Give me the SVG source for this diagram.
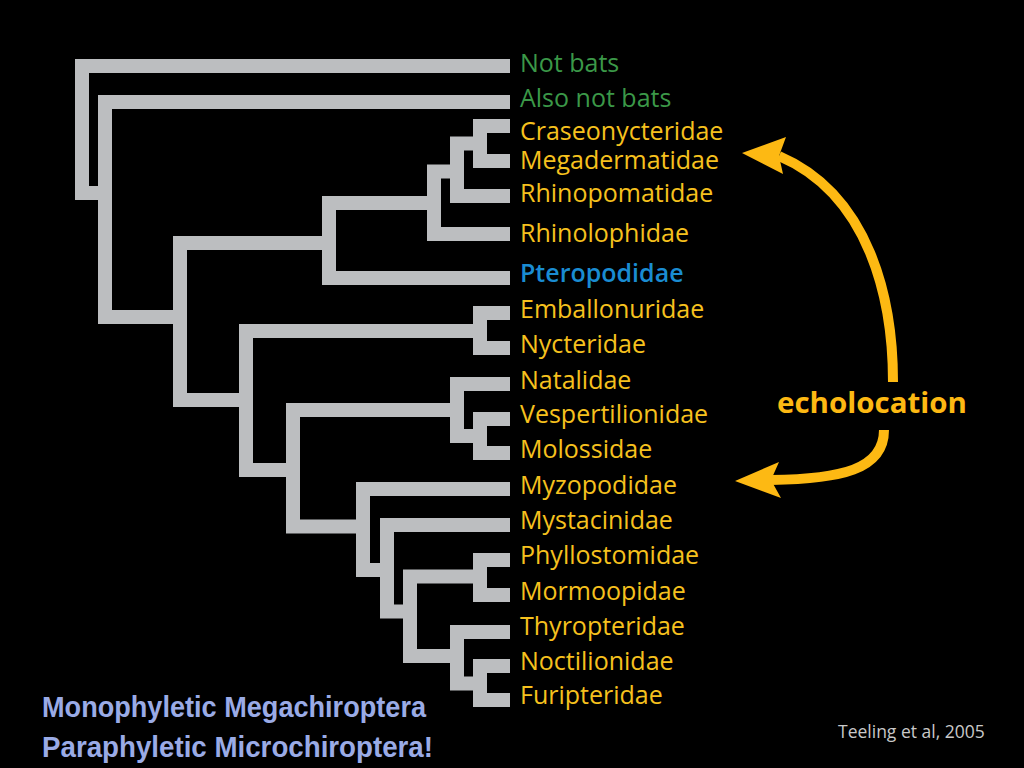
<svg xmlns="http://www.w3.org/2000/svg" width="1024" height="768" viewBox="0 0 1024 768">
<style>
.br{fill:none;stroke:#bcbec0;stroke-width:14;stroke-linejoin:miter;stroke-linecap:butt}
.lb{font-family:"Open Sans","Noto Sans",sans-serif;font-size:25px;fill:#f6c11e}
.gr{fill:#3b9848}
.bl{fill:#1a8cd2;font-weight:600}
.ar{fill:none;stroke:#fdb913;stroke-width:10;stroke-linecap:butt}
.ah{fill:#fdb913}
.note{font-family:"Liberation Sans",Arial,sans-serif;font-weight:bold;font-size:29px;fill:#9aabe6}
</style>
<rect x="0" y="0" width="1024" height="768" fill="#000"/>
<g id="connectors">
<g id="n-root"><path class="br" d="M510,66 H82 V193 H105"/></g>
<g id="n-bats"><path class="br" d="M510,102 H105 V317 H180"/></g>
<g id="n-v3"><path class="br" d="M329,243 H180 V400 H246"/></g>
<g id="n-ptero"><path class="br" d="M434,203 H329 V278 H510"/></g>
<g id="n-rhinolo"><path class="br" d="M457,171.5 H434 V234 H510"/></g>
<g id="n-rhinopo"><path class="br" d="M480,143.5 H457 V196 H510"/></g>
<g id="n-crasmega"><path class="br" d="M510,126 H480 V161 H510"/></g>
<g id="n-v4"><path class="br" d="M480,331 H246 V470 H293"/></g>
<g id="n-embnyc"><path class="br" d="M510,313 H480 V348 H510"/></g>
<g id="n-v5"><path class="br" d="M457,410 H293 V526.5 H363"/></g>
<g id="n-natal"><path class="br" d="M510,384 H457 V436 H480"/></g>
<g id="n-vespmol"><path class="br" d="M510,419 H480 V453 H510"/></g>
<g id="n-v6"><path class="br" d="M510,489 H363 V570 H387"/></g>
<g id="n-v7"><path class="br" d="M510,525 H387 V611.5 H410"/></g>
<g id="n-v8"><path class="br" d="M480,576.5 H410 V656 H457"/></g>
<g id="n-phylmorm"><path class="br" d="M510,560 H480 V595 H510"/></g>
<g id="n-v9"><path class="br" d="M510,632 H457 V683.5 H480"/></g>
<g id="n-noctfur"><path class="br" d="M510,666 H480 V700 H510"/></g>
</g>
<g id="labels">
<g id="t-notbats"><text class="lb gr" x="520" y="72">Not bats</text></g>
<g id="t-alsonot"><text class="lb gr" x="520" y="107">Also not bats</text></g>
<g id="t-cras"><text class="lb" x="520" y="140">Craseonycteridae</text></g>
<g id="t-mega"><text class="lb" x="520" y="169">Megadermatidae</text></g>
<g id="t-rhinopo"><text class="lb" x="520" y="202">Rhinopomatidae</text></g>
<g id="t-rhinolo"><text class="lb" x="520" y="242">Rhinolophidae</text></g>
<g id="t-ptero"><text class="lb bl" x="520" y="282">Pteropodidae</text></g>
<g id="t-emb"><text class="lb" x="520" y="318">Emballonuridae</text></g>
<g id="t-nyc"><text class="lb" x="520" y="353">Nycteridae</text></g>
<g id="t-nat"><text class="lb" x="520" y="389">Natalidae</text></g>
<g id="t-vesp"><text class="lb" x="520" y="423">Vespertilionidae</text></g>
<g id="t-mol"><text class="lb" x="520" y="458">Molossidae</text></g>
<g id="t-myzo"><text class="lb" x="520" y="494">Myzopodidae</text></g>
<g id="t-myst"><text class="lb" x="520" y="529">Mystacinidae</text></g>
<g id="t-phyl"><text class="lb" x="520" y="564">Phyllostomidae</text></g>
<g id="t-morm"><text class="lb" x="520" y="600">Mormoopidae</text></g>
<g id="t-thyr"><text class="lb" x="520" y="635">Thyropteridae</text></g>
<g id="t-noct"><text class="lb" x="520" y="670">Noctilionidae</text></g>
<g id="t-furi"><text class="lb" x="520" y="704">Furipteridae</text></g>
</g>
<g id="echolocation">
<path class="ar" d="M893,382 C893,300 870,195 779,156"/>
<polygon class="ah" points="742,153 786,137 779,156 783,174"/>
<path class="ar" d="M884,430 C884,470 840,479 771,480"/>
<polygon class="ah" points="735,481 779,462 771,480 781,498"/>
<text x="777" y="413" font-family="'Open Sans','Noto Sans',sans-serif" font-weight="bold" font-size="28" fill="#fdb913" textLength="190" lengthAdjust="spacingAndGlyphs">echolocation</text>
</g>
<g id="notes">
<text class="note" x="42" y="717" textLength="384" lengthAdjust="spacingAndGlyphs">Monophyletic Megachiroptera</text>
<text class="note" x="42" y="757" textLength="391" lengthAdjust="spacingAndGlyphs">Paraphyletic Microchiroptera!</text>
<text x="838" y="738" font-family="'Open Sans','Noto Sans',sans-serif" font-size="17.5" fill="#c9c9c9">Teeling et al, 2005</text>
</g>
</svg>
